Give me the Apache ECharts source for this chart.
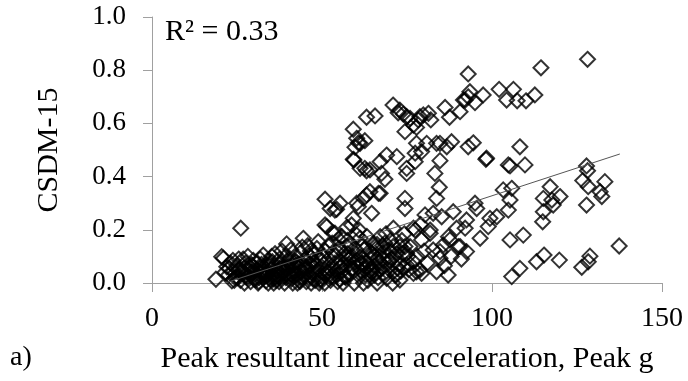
<!DOCTYPE html>
<html>
<head>
<meta charset="utf-8">
<script src="https://cdn.jsdelivr.net/npm/echarts@6/dist/echarts.min.js"></script>
<style>
html,body{margin:0;padding:0;background:#fff;}
#chart{width:688px;height:381px;}
</style>
</head>
<body>
<div id="chart"></div>
<script>
// Peak resultant linear acceleration (g)
var peakG = [
  93.0,114.4,128.1,102.1,106.3,104.3,107.4,110,112.6,97.4,95,93,93.5,92.1,90.6,87.5,86.2,82,81.3,78.8,76.9,74.9,74.4,72.9,84.7,88.1,94.5,108.2,77.8,80.8,
  91.6,79.8,78.3,75.9,73.9,70.9,72.4,77.8,63.1,65.6,59.2,60.2,62.6,59.7,61.2,59.4,62.6,64.1,67.1,69.0,72,74.9,77.4,77.4,79.3,83.7,84.7,86.7,93,98.4,67.5,104.8,
  98.2,105.3,109.7,83.2,84.5,83.7,74.4,74.4,95,95.5,103.3,105.8,105.3,104.8,101.4,98.9,96.5,92.5,92.1,88.6,85.2,82.7,80.3,77.4,81.8,79.3,87.6,90.1,92.5,85.7,82.7,84.7,74.4,73.9,77.8,83.7,87.1,79.3,
  117.1,115.1,117.6,120,118,115.1,114.9,127.8,128.1,126.7,128.3,133.2,131.8,132.3,127.8,105.3,109.2,108.2,105.8,113.1,115.3,119.8,128.8,128.3,126.4,137.4,
  50.9,52.4,55.3,54.3,50.9,53.8,57.3,59.2,60.7,62.2,64.1,64.6,66.6,68.5,61.2,63.1,59.2,60.7,71,67.1,65.1,61.2,57.3,69.5,72.9,74.9,76.9,39.6,44.5,32.7,20.5,18.8,26.1,
  53.8,60.2,63.1,67.1,58.7,51.4,53.3,74.9,76.9,81.8,89.6,99.4,87.2,90.6,84.7,78.8,76.9,74.9,72.9,70,69,73.9,75.9,
  21,22,22.5,23,23.5,24,24.5,25,25.5,21.5,23.8,
  26,26.5,27,27.5,28,28.5,29,29.5,30,26.8,28.2,29.8,27.2,30.5,25.8,
  30.8,31,31.5,32,33,33.5,34,34.5,35,31.2,32.4,33.8,34.8,31.8,35.2,32.9,34.2,
  35.5,36,36.5,37,37.5,38,38.5,39,40,36.2,37.8,38.8,39.3,35.8,37.2,38.2,39.8,
  40.5,41,41.5,42,42.5,43,43.5,44,45,40.8,41.8,42.8,43.8,44.8,41.2,43.2,44.2,
  45.5,46,46.5,47,47.5,48,48.5,48.9,49,49.5,50,45.8,46.8,47.8,49.2,46.2,47.2,48.2,
  50.5,51,51.5,52,52.5,53,53.5,54,54.5,55,50.8,52.2,53.8,54.8,55.2,51.8,53.2,
  55.5,56,56.5,57,57.5,58,58.5,59,59.5,60,56.2,57.8,59.2,55.8,58.2,60.2,
  60.5,61,61.5,62,62.5,63,63.5,64,64.5,60.8,62.2,63.2,64.2,65.2,61.8,63.8,
  65.5,66,66.5,67.5,68,68.5,65.8,66.8,67.8,68.8,69.2,70.2,66.2,68.2,
  70.5,71.5,72,72.5,73.5,75.5,71.2,73.2,74.2,75.2,70.8,
  78,80,81,86,88,91,79,
  27.8,29.2,30.2,31.6,33.2,34.6,36.4,37.6,39.4,40.2,41.6,42.2,43.6,45.2,46.4,47.6,49.6,51.2,52.8,54.2,56.6,58.6,61.4,63.4,65.4,67.2,69.8,71.8,
  24.2,26.4,28.8,30.4,32.2,33.6,35.4,36.8,38.4,40.6,42.4,44.6,46.6,48.4,50.2,52.6,55.6,57.6,59.8,62.8,64.8,67.8,
  22.8,25.2,27.6,29.4,31.4,33.4,35.6,37.4,39.2,41.4,43.4,45.4,47.4,49.4,51.6,54.6,56.8,
  58.4,61.6,64.4,66.4,69.6,72.2,62.4,66.2,70.4,55.4,57.2,60.4
];
// CSDM-15
var csdm = [
  0.786,0.809,0.841,0.728,0.728,0.688,0.685,0.685,0.707,0.707,0.678,0.70,0.719,0.688,0.644,0.623,0.66,0.613,0.638,0.625,0.594,0.625,0.569,0.65,0.525,0.531,0.527,0.512,0.525,0.525,
  0.688,0.632,0.613,0.619,0.635,0.669,0.64,0.585,0.623,0.628,0.578,0.544,0.535,0.51,0.525,0.462,0.431,0.425,0.456,0.481,0.475,0.431,0.488,0.456,0.494,0.525,0.46,0.512,0.512,0.469,0.412,0.444,
  0.465,0.44,0.444,0.412,0.36,0.318,0.318,0.28,0.30,0.28,0.35,0.356,0.312,0.274,0.249,0.212,0.168,0.237,0.206,0.268,0.249,0.262,0.256,0.199,0.199,0.162,0.162,0.137,0.118,0.143,0.124,0.093,0.137,0.061,0.042,0.042,0.03,0.036,
  0.362,0.318,0.312,0.325,0.293,0.268,0.23,0.44,0.422,0.385,0.362,0.381,0.343,0.325,0.293,0.162,0.18,0.055,0.024,0.08,0.105,0.086,0.101,0.08,0.059,0.139,
  0.315,0.28,0.30,0.277,0.218,0.187,0.209,0.243,0.287,0.318,0.343,0.262,0.337,0.39,0.431,0.422,0.465,0.527,0.206,0.174,0.149,0.168,0.137,0.124,0.137,0.112,0.08,0.147,0.168,0.105,0.099,0.014,0.206,
  0.274,0.30,0.331,0.337,0.218,0.212,0.187,0.412,0.206,0.187,0.206,0.243,0.174,0.137,0.118,0.049,0.036,0.068,0.011,0.049,0.018,0.112,0.137,
  0.093,0.061,0.03,0.075,0.008,0.045,0.02,0.065,0.09,0.04,0.085,
  0.01,0.035,0.055,0.075,0.02,0.045,0.005,0.065,0.03,0.09,0.1,0.085,0.0,0.012,0.05,
  0.05,0.075,0.02,0.04,0.06,0.008,0.03,0.085,0.05,0.0,0.025,0.07,0.015,0.09,0.1,0.045,0.0,
  0.03,0.065,0.01,0.045,0.09,0.02,0.06,0.0,0.035,0.11,0.075,0.04,0.1,0.0,0.025,0.12,0.06,
  0.08,0.015,0.05,0.1,0.03,0.07,0.005,0.045,0.09,0.125,0.035,0.0,0.115,0.025,0.065,0.055,0.135,
  0.06,0.02,0.1,0.04,0.075,0.01,0.13,0.155,0.05,0.09,0.025,0.14,0.0,0.11,0.0,0.065,0.085,0.035,
  0.07,0.12,0.04,0.09,0.01,0.15,0.06,0.1,0.03,0.13,0.0,0.055,0.075,0.165,0.015,0.14,0.115,
  0.08,0.045,0.11,0.02,0.16,0.07,0.035,0.1,0.0,0.125,0.0,0.09,0.055,0.175,0.14,0.18,
  0.06,0.025,0.1,0.14,0.05,0.08,0.01,0.12,0.04,0.2,0.0,0.175,0.09,0.065,0.07,0.03,
  0.1,0.13,0.02,0.06,0.09,0.15,0.04,0.08,0.115,0.185,0.07,0.16,0.0,0.035,
  0.09,0.03,0.11,0.07,0.16,0.05,0.14,0.045,0.185,0.1,0.0,
  0.1,0.12,0.075,0.065,0.1,0.09,0.22,
  0.025,0.07,0.015,0.055,0.025,0.065,0.02,0.055,0.02,0.06,0.025,0.065,0.02,0.05,0.03,0.06,0.015,0.03,0.025,0.045,0.025,0.05,0.045,0.06,0.03,0.05,0.085,0.03,
  0.01,0.04,0.06,0.02,0.07,0.04,0.08,0.03,0.05,0.09,0.08,0.06,0.12,0.07,0.1,0.02,0.06,0.11,0.08,0.03,0.11,0.14,
  0.055,0.02,0.03,0.04,0.005,0.035,0.015,0.005,0.03,0.0,0.01,0.005,0.015,0.01,0.04,0.005,0.025,
  0.095,0.075,0.05,0.09,0.1,0.055,0.125,0.145,0.12,0.06,0.095,0.085
];
// Linear trendline end points
var trendX = [21.5, 137.6];
var trendY = [0.0, 0.485];
var xTicks = [0, 50, 100, 150];
var yTicks = [0.0, 0.2, 0.4, 0.6, 0.8, 1.0];
var r2Text = 'R² = 0.33';
var panelLabel = 'a)';
var xTitle = 'Peak resultant linear acceleration, Peak g';
var yTitle = 'CSDM-15';

var pts = peakG.map(function (x, i) { return [x, csdm[i]]; });
var trend = trendX.map(function (x, i) { return [x, trendY[i]]; });

var FONT = '"Liberation Serif", "Times New Roman", serif';
var chart = echarts.init(document.getElementById('chart'), null, {renderer: 'canvas'});
chart.setOption({
  animation: false,
  backgroundColor: '#fff',
  grid: {left: 152, right: 26, top: 17, bottom: 98, containLabel: false},
  xAxis: {
    type: 'value', min: xTicks[0], max: xTicks[xTicks.length - 1], interval: 50,
    name: xTitle, nameLocation: 'middle', nameGap: 61,
    nameTextStyle: {fontFamily: FONT, fontSize: 30, color: '#000'},
    axisLine: {show: true, lineStyle: {color: '#a0a0a0', width: 1}},
    axisTick: {show: true, length: 9, inside: false, lineStyle: {color: '#a0a0a0'}},
    axisLabel: {fontFamily: FONT, fontSize: 28, color: '#000', margin: 22},
    splitLine: {show: false}
  },
  yAxis: {
    type: 'value', min: yTicks[0], max: yTicks[yTicks.length - 1], interval: 0.2,
    name: yTitle, nameLocation: 'middle', nameGap: 88, nameRotate: 90,
    nameTextStyle: {fontFamily: FONT, fontSize: 30, color: '#000'},
    axisLine: {show: true, lineStyle: {color: '#a0a0a0', width: 1}},
    axisTick: {show: true, length: 9, inside: false, lineStyle: {color: '#a0a0a0'}},
    axisLabel: {fontFamily: FONT, fontSize: 27, color: '#000', margin: 26,
      formatter: function (v) { return v.toFixed(1); }},
    splitLine: {show: false}
  },
  series: [
    {
      type: 'scatter', data: pts, symbol: 'diamond', symbolSize: 15,
      itemStyle: {color: 'rgba(0,0,0,0)', borderColor: '#000', borderWidth: 2},
      z: 3
    },
    {
      type: 'line', data: trend, symbol: 'none',
      lineStyle: {color: '#555', width: 1}, z: 4
    }
  ],
  graphic: [
    {type: 'text', left: 165, top: 17, style: {text: r2Text, font: '30px ' + FONT, fill: '#000'}},
    {type: 'text', left: 10, top: 344, style: {text: panelLabel, font: '28px ' + FONT, fill: '#000'}}
  ]
});
</script>
</body>
</html>
